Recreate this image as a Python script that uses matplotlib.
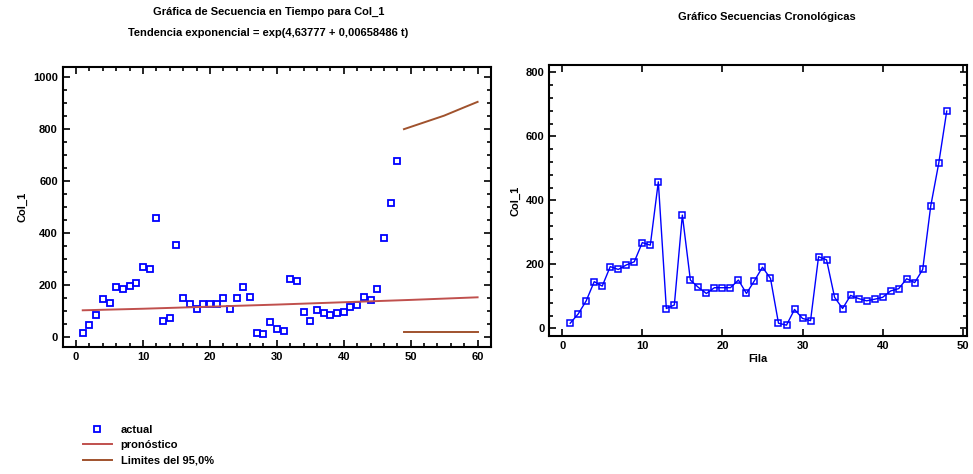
import matplotlib
matplotlib.use("Agg")
import matplotlib.pyplot as plt
from matplotlib.ticker import MultipleLocator

plt.rcParams['font.family'] = ['Liberation Sans Narrow', 'Liberation Sans', 'DejaVu Sans']

# data
fila = list(range(1, 49))
col_1 = [16, 45, 86, 146, 132, 193, 184, 198, 208, 268, 260, 458,
         62, 73, 354, 151, 128, 109, 127, 127, 127, 151, 109, 149,
         191, 156, 16, 10, 59, 31, 24, 224, 214, 97, 62, 103,
         93, 86, 91, 97, 117, 124, 155, 143, 184, 382, 516, 679]

trend_t = [1, 10, 20, 30, 40, 50, 60]
trend_v = [103, 109, 117, 125, 134, 143, 153]

lim_t = [49, 52, 55, 58, 60]
lim_upper = [800, 826, 852, 884, 905]
lim_lower = [20, 20, 20, 20, 20]

blue = '#0000ff'
red = '#c0504d'
brown = '#a0522d'
tick_font = 8

fig = plt.figure(figsize=(9.73, 4.74), dpi=100)

# ---------------- left chart
ax1 = fig.add_axes([0.0644, 0.2686, 0.4402, 0.5894])
ax1.plot(fila, col_1, linestyle='none', marker='s', markersize=4.5,
         markerfacecolor='none', markeredgecolor=blue, markeredgewidth=1.3, label='actual')
ax1.plot(trend_t, trend_v, color=red, linewidth=1.4, label='pronóstico')
ax1.plot(lim_t, lim_upper, color=brown, linewidth=1.4, label='Limites del 95,0%')
ax1.plot(lim_t, lim_lower, color=brown, linewidth=1.4)
ax1.set_xlim(-2, 62)
ax1.set_ylim(-37, 1038)
ax1.xaxis.set_major_locator(MultipleLocator(10))
ax1.xaxis.set_minor_locator(MultipleLocator(2))
ax1.yaxis.set_major_locator(MultipleLocator(200))
ax1.yaxis.set_minor_locator(MultipleLocator(50))
ax1.set_ylabel('Col_1', fontsize=tick_font, fontweight='bold')
ax1.text(0.48, 1.198, 'Gráfica de Secuencia en Tiempo para Col_1', transform=ax1.transAxes,
         ha='center', va='center', fontsize=8, fontweight='bold')
ax1.text(0.48, 1.123, 'Tendencia exponencial = exp(4,63777 + 0,00658486 t)', transform=ax1.transAxes,
         ha='center', va='center', fontsize=8, fontweight='bold')

# ---------------- right chart
ax2 = fig.add_axes([0.5646, 0.2911, 0.4290, 0.5717])
ax2.plot(fila, col_1, color=blue, linewidth=1.0, marker='s', markersize=4,
         markerfacecolor='none', markeredgecolor=blue, markeredgewidth=1.1)
ax2.set_xlim(-1.6, 50.5)
ax2.set_ylim(-24, 823)
ax2.xaxis.set_major_locator(MultipleLocator(10))
ax2.yaxis.set_major_locator(MultipleLocator(200))
ax2.yaxis.set_minor_locator(MultipleLocator(40))
ax2.set_xlabel('Fila', fontsize=tick_font, fontweight='bold', labelpad=2)
ax2.set_ylabel('Col_1', fontsize=tick_font, fontweight='bold')
ax2.text(0.52, 1.177, 'Gráfico Secuencias Cronológicas', transform=ax2.transAxes,
         ha='center', va='center', fontsize=8, fontweight='bold')

for ax in (ax1, ax2):
    ax.tick_params(which='both', direction='in', top=True, right=True,
                   labelsize=tick_font, width=1.2)
    ax.tick_params(which='major', length=5)
    ax.tick_params(which='minor', length=3)
    for lab in ax.get_xticklabels() + ax.get_yticklabels():
        lab.set_fontweight('bold')
    for sp in ax.spines.values():
        sp.set_linewidth(1.5)

fig.legend(*ax1.get_legend_handles_labels(), loc='upper left',
           bbox_to_anchor=(0.075, 0.125), frameon=False,
           handlelength=2.6, labelspacing=0.5, handletextpad=0.8,
           prop={'weight': 'bold', 'size': 8})

fig.savefig('out.png', dpi=100)
